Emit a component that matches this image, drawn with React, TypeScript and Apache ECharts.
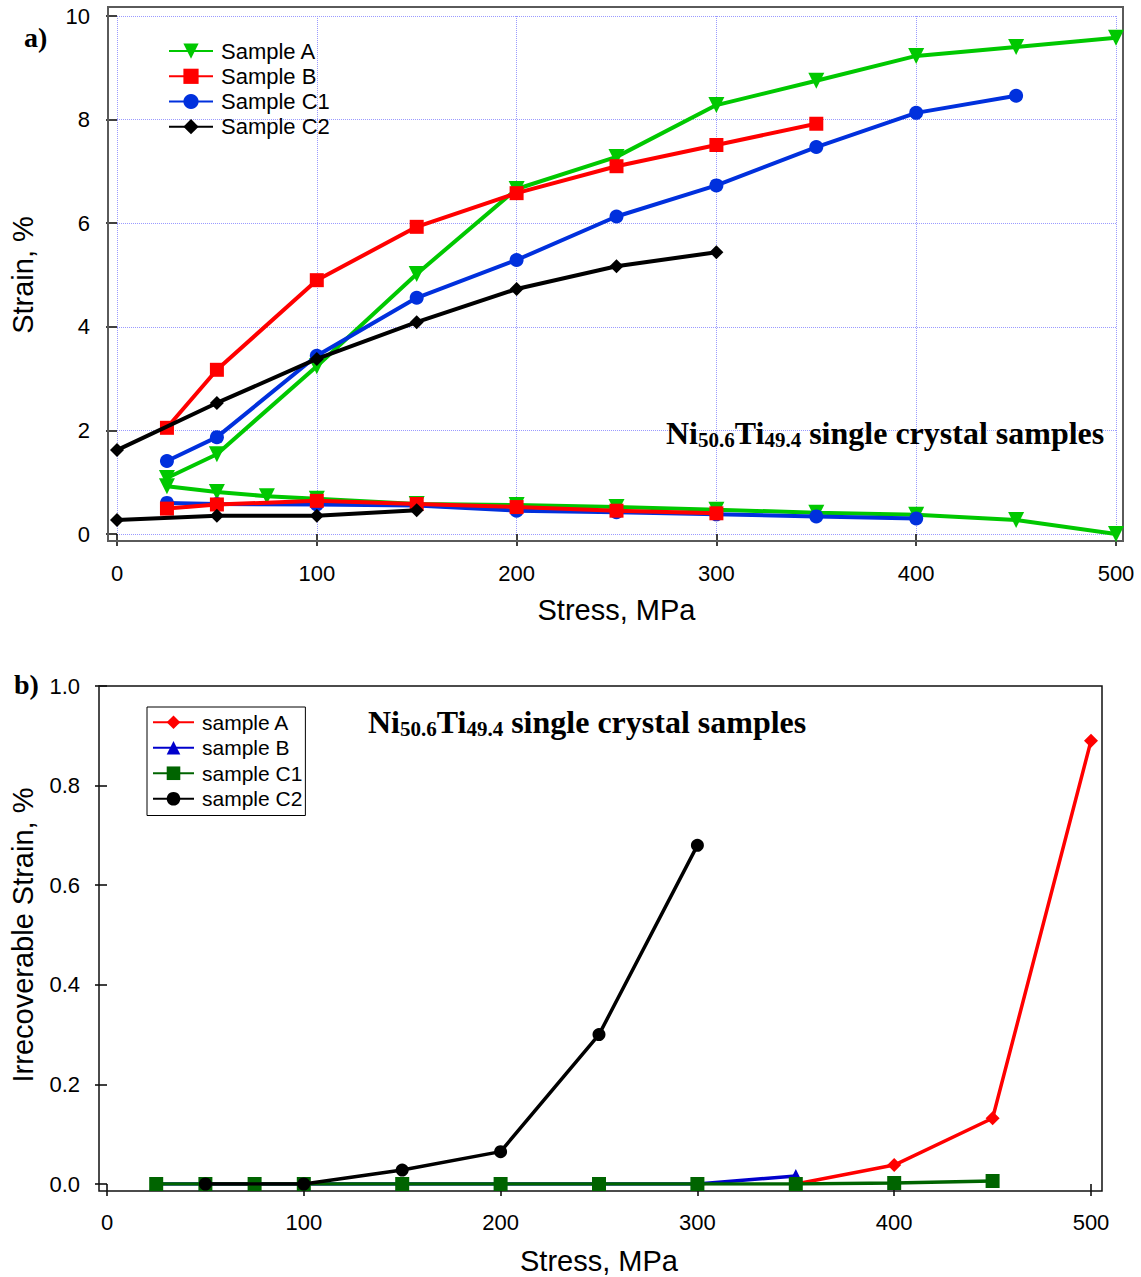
import React, { useEffect, useRef } from "react";
import * as echarts from "echarts";

// ---------- Panel a: strain vs stress (loading / unloading) ----------
const stressA_load = [25, 50, 100, 150, 200, 250, 300, 350, 400, 450, 500];
const strainA_load = [1.08, 1.54, 3.24, 5.02, 6.66, 7.28, 8.28, 8.75, 9.23, 9.4, 9.58];
const stressA_unload = [500, 450, 400, 350, 300, 250, 200, 150, 100, 75, 50, 25];
const strainA_unload = [0.0, 0.27, 0.37, 0.41, 0.47, 0.52, 0.56, 0.58, 0.68, 0.73, 0.81, 0.92];

const stressB_load = [25, 50, 100, 150, 200, 250, 300, 350];
const strainB_load = [2.05, 3.17, 4.9, 5.93, 6.58, 7.1, 7.51, 7.92];
const stressB_unload = [300, 250, 200, 150, 100, 50, 25];
const strainB_unload = [0.4, 0.45, 0.52, 0.58, 0.64, 0.57, 0.49];

const stressC1_load = [25, 50, 100, 150, 200, 250, 300, 350, 400, 450];
const strainC1_load = [1.41, 1.87, 3.44, 4.56, 5.29, 6.13, 6.73, 7.47, 8.13, 8.46];
const stressC1_unload = [400, 350, 300, 250, 200, 150, 100, 50, 25];
const strainC1_unload = [0.3, 0.34, 0.38, 0.42, 0.45, 0.55, 0.57, 0.58, 0.6];

const stressC2_load = [0, 50, 100, 150, 200, 250, 300];
const strainC2_load = [1.62, 2.53, 3.38, 4.09, 4.73, 5.17, 5.44];
const stressC2_unload = [150, 100, 50, 0];
const strainC2_unload = [0.46, 0.35, 0.35, 0.27];

const namesA = ["Sample A", "Sample B", "Sample C1", "Sample C2"];

// ---------- Panel b: irrecoverable strain vs stress ----------
const stressIrrA = [350, 400, 450, 500];
const irrA = [0.0, 0.038, 0.132, 0.89];
const stressIrrB = [25, 50, 100, 150, 200, 250, 300, 350];
const irrB = [0, 0, 0, 0, 0, 0, 0, 0.016];
const stressIrrC1 = [25, 50, 75, 100, 150, 200, 250, 300, 350, 400, 450];
const irrC1 = [0, 0, 0, 0, 0, 0, 0, 0, 0, 0.002, 0.006];
const stressIrrC2 = [50, 100, 150, 200, 250, 300];
const irrC2 = [0, 0, 0.028, 0.065, 0.3, 0.68];

const namesB = ["sample A", "sample B", "sample C1", "sample C2"];

const SANS = "Liberation Sans, Arial, Helvetica, sans-serif";
const SERIF = "Liberation Serif, Times New Roman, serif";

const GREEN = "#00c800";
const RED = "#ff0000";
const BLUE = "#0030dd";
const BLACK = "#000000";

const B_RED = "#ff0000";
const B_BLUE = "#0000cc";
const B_GREEN = "#006400";
const B_BLACK = "#000000";

const pairs = (xs: number[], ys: number[]) => xs.map((x, i) => [x, ys[i]]);

function lineSeries(
  name: string,
  grid: number,
  xs: number[],
  ys: number[],
  color: string,
  symbol: string,
  size: number,
  width: number,
  z: number,
  rotate = 0
) {
  return {
    name,
    type: "line",
    xAxisIndex: grid,
    yAxisIndex: grid,
    data: pairs(xs, ys),
    symbol,
    symbolSize: size,
    symbolRotate: rotate,
    showAllSymbol: true,
    lineStyle: { color, width },
    itemStyle: { color },
    emphasis: { disabled: true },
    z,
  };
}

const annotation = (x: number, y: number) => ({
  type: "text",
  x,
  y,
  z: 10,
  style: {
    text: "{m|Ni}{s|50.6}{m|Ti}{s|49.4}{m| single crystal samples}",
    verticalAlign: "middle",
    fill: "#000",
    rich: {
      m: {
        fontFamily: SERIF,
        fontWeight: "bold",
        fontSize: 32,
        lineHeight: 34,
        fill: "#000",
      },
      s: {
        fontFamily: SERIF,
        fontWeight: "bold",
        fontSize: 21,
        lineHeight: 22,
        verticalAlign: "bottom",
        fill: "#000",
      },
    },
  },
});

export default function App() {
  const ref = useRef<HTMLDivElement>(null);

  useEffect(() => {
    if (!ref.current) return;
    const chart = echarts.init(ref.current, undefined, { renderer: "svg" });

    const tickLabel = { fontFamily: SANS, fontSize: 22, color: "#000" };
    const nameStyle = { fontFamily: SANS, fontSize: 29, color: "#000" };
    const gridLine = { show: true, lineStyle: { color: "#9a9aff", type: "dotted", width: 1 } };

    const option = {
      animation: false,
      backgroundColor: "#ffffff",
      grid: [
        { left: 117, top: 16, width: 999, height: 518 },
        { left: 107, top: 686, width: 984, height: 498 },
      ],
      xAxis: [
        {
          gridIndex: 0,
          type: "value",
          min: 0,
          max: 500,
          interval: 100,
          offset: 7,
          axisLine: { show: false },
          axisTick: { show: true, length: 12, lineStyle: { color: "#000", width: 1.5 } },
          axisLabel: { ...tickLabel, margin: 21 },
          splitLine: gridLine,
          name: "Stress, MPa",
          nameLocation: "middle",
          nameGap: 54,
          nameTextStyle: nameStyle,
        },
        {
          gridIndex: 1,
          type: "value",
          min: 0,
          max: 500,
          interval: 100,
          offset: 7,
          axisLine: { show: false },
          axisTick: { show: true, length: 12, lineStyle: { color: "#000", width: 1.5 } },
          axisLabel: { ...tickLabel, margin: 20 },
          splitLine: { show: false },
          name: "Stress, MPa",
          nameLocation: "middle",
          nameGap: 55,
          nameTextStyle: nameStyle,
        },
      ],
      yAxis: [
        {
          gridIndex: 0,
          type: "value",
          min: 0,
          max: 10,
          interval: 2,
          offset: 9,
          axisLine: { show: false },
          axisTick: { show: true, length: 11, lineStyle: { color: "#000", width: 1.5 } },
          axisLabel: { ...tickLabel, margin: 18 },
          splitLine: gridLine,
          name: "Strain, %",
          nameLocation: "middle",
          nameGap: 71,
          nameTextStyle: nameStyle,
        },
        {
          gridIndex: 1,
          type: "value",
          min: 0,
          max: 1,
          interval: 0.2,
          offset: 8,
          axisLine: { show: false },
          axisTick: { show: true, length: 12, lineStyle: { color: "#000", width: 1.5 } },
          axisLabel: { ...tickLabel, margin: 19, formatter: (v: number) => v.toFixed(1) },
          splitLine: { show: false },
          name: "Irrecoverable Strain, %",
          nameLocation: "middle",
          nameGap: 62,
          nameTextStyle: nameStyle,
        },
      ],
      legend: [
        {
          data: namesA,
          orient: "vertical",
          left: 168,
          top: 38.5,
          padding: 0,
          itemGap: 0,
          itemWidth: 44,
          itemHeight: 19,
          selectedMode: false,
          textStyle: { fontFamily: SANS, fontSize: 22, color: "#000", lineHeight: 25.2, padding: [0, 0, 0, 3] },
        },
        {
          data: namesB,
          orient: "vertical",
          left: 147,
          top: 707,
          padding: [2.5, 3, 4, 5],
          itemGap: 0,
          itemWidth: 41,
          itemHeight: 17,
          selectedMode: false,
          borderColor: "#000",
          borderWidth: 1,
          textStyle: { fontFamily: SANS, fontSize: 21, color: "#000", lineHeight: 25.5, padding: [0, 0, 0, 3] },
        },
      ],
      graphic: [
        {
          type: "rect",
          z: 1,
          silent: true,
          shape: { x: 108, y: 7, width: 1015, height: 534 },
          style: { fill: "none", stroke: "#5a5a5a", lineWidth: 2 },
        },
        {
          type: "rect",
          z: 1,
          silent: true,
          shape: { x: 99, y: 686, width: 1003, height: 505 },
          style: { fill: "none", stroke: "#111", lineWidth: 1.5 },
        },
        {
          type: "text",
          x: 24,
          y: 37,
          style: { text: "a)", fontFamily: SERIF, fontWeight: "bold", fontSize: 28, fill: "#000", verticalAlign: "middle" },
        },
        {
          type: "text",
          x: 14,
          y: 684,
          style: { text: "b)", fontFamily: SERIF, fontWeight: "bold", fontSize: 28, fill: "#000", verticalAlign: "middle" },
        },
        annotation(666, 433),
        annotation(368, 722),
      ],
      series: [
        lineSeries(namesA[0], 0, stressA_load, strainA_load, GREEN, "triangle", 16, 4, 2, 180),
        lineSeries(namesA[0], 0, stressA_unload, strainA_unload, GREEN, "triangle", 16, 4, 2, 180),
        lineSeries(namesA[1], 0, stressB_load, strainB_load, RED, "rect", 14, 4, 4),
        lineSeries(namesA[1], 0, stressB_unload, strainB_unload, RED, "rect", 14, 4, 4),
        lineSeries(namesA[2], 0, stressC1_load, strainC1_load, BLUE, "circle", 14, 4, 3),
        lineSeries(namesA[2], 0, stressC1_unload, strainC1_unload, BLUE, "circle", 14, 4, 3),
        lineSeries(namesA[3], 0, stressC2_load, strainC2_load, BLACK, "diamond", 14, 4, 5),
        lineSeries(namesA[3], 0, stressC2_unload, strainC2_unload, BLACK, "diamond", 14, 4, 5),

        lineSeries(namesB[0], 1, stressIrrA, irrA, B_RED, "diamond", 14, 3.5, 2),
        lineSeries(namesB[1], 1, stressIrrB, irrB, B_BLUE, "triangle", 14, 3.5, 3),
        lineSeries(namesB[2], 1, stressIrrC1, irrC1, B_GREEN, "rect", 14, 3.5, 4),
        lineSeries(namesB[3], 1, stressIrrC2, irrC2, B_BLACK, "circle", 13, 3.5, 5),
      ],
    };

    chart.setOption(option as any);
    return () => chart.dispose();
  }, []);

  return (
    <div
      ref={ref}
      style={{ position: "absolute", left: 0, top: 0, width: 1141, height: 1277, background: "#fff" }}
    />
  );
}
